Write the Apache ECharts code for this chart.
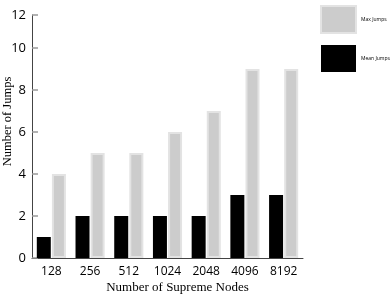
<!DOCTYPE html>
<html><head><meta charset="utf-8">
<script src="https://cdn.jsdelivr.net/npm/echarts@6/dist/echarts.min.js"></script>
<style>html,body{margin:0;padding:0;background:#fff}#c{width:392px;height:295px}</style>
</head><body><div id="c"></div>
<script>
const categories = ['128','256','512','1024','2048','4096','8192'];
const meanJumps = [1,2,2,2,2,3,3];
const maxJumps = [4,5,5,6,7,9,9];
// axis in the source tops out just below 12 but labels its end "12"
const yAxisMax = 11.57;
const yTopLabel = '12';
const yInterval = 2;

const chart = echarts.init(document.getElementById('c'), null, {renderer:'canvas'});
chart.setOption({
  animation:false,
  backgroundColor:'#fff',
  grid:{left:32, right:89, top:15, bottom:37, outerBoundsMode:'none', containLabel:false},
  legend:{
    orient:'vertical', left:320, top:5, width:72, padding:0,
    itemWidth:35, itemHeight:27, itemGap:11,
    icon:'rect', align:'left',
    data:['Max Jumps','Mean Jumps'],
    textStyle:{fontSize:5, color:'#000', fontFamily:'Open Sans', overflow:'none', padding:0},
    selectedMode:false
  },
  xAxis:{
    type:'category', data:categories,
    axisLine:{lineStyle:{color:'#444', width:1}},
    axisTick:{inside:true, length:5, lineStyle:{color:'#444'}},
    axisLabel:{fontSize:12, color:'#000', fontFamily:'Open Sans', margin:8},
    name:'Number of Supreme Nodes', nameLocation:'middle', nameGap:23, nameMoveOverlap:false,
    nameTextStyle:{fontFamily:'Liberation Serif', fontSize:13, color:'#000', padding:[0,0,0,20]}
  },
  yAxis:{
    type:'value', min:0, max:yAxisMax, interval:yInterval,
    splitLine:{show:false},
    axisLine:{show:true, lineStyle:{color:'#444', width:1}},
    axisTick:{show:true, inside:true, length:6, lineStyle:{color:'#999', width:1.5}},
    axisLabel:{fontSize:13, color:'#000', fontFamily:'Open Sans', margin:6, showMaxLabel:true,
      formatter:function(v){ return v > 10.5 ? yTopLabel : String(v); }},
    name:'Number of Jumps', nameLocation:'middle', nameGap:18, nameRotate:90, nameMoveOverlap:false,
    nameTextStyle:{fontFamily:'Liberation Serif', fontSize:12.5, color:'#000', padding:[0,0,0,30]}
  },
  series:[
    {name:'Mean Jumps', type:'bar', data:meanJumps, barWidth:14, barGap:'8%',
     itemStyle:{color:'#000'}},
    {name:'Max Jumps', type:'bar', data:maxJumps, barWidth:14,
     itemStyle:{color:'#cccccc', borderColor:'#e3e3e3', borderWidth:2}}
  ]
});
</script></body></html>
